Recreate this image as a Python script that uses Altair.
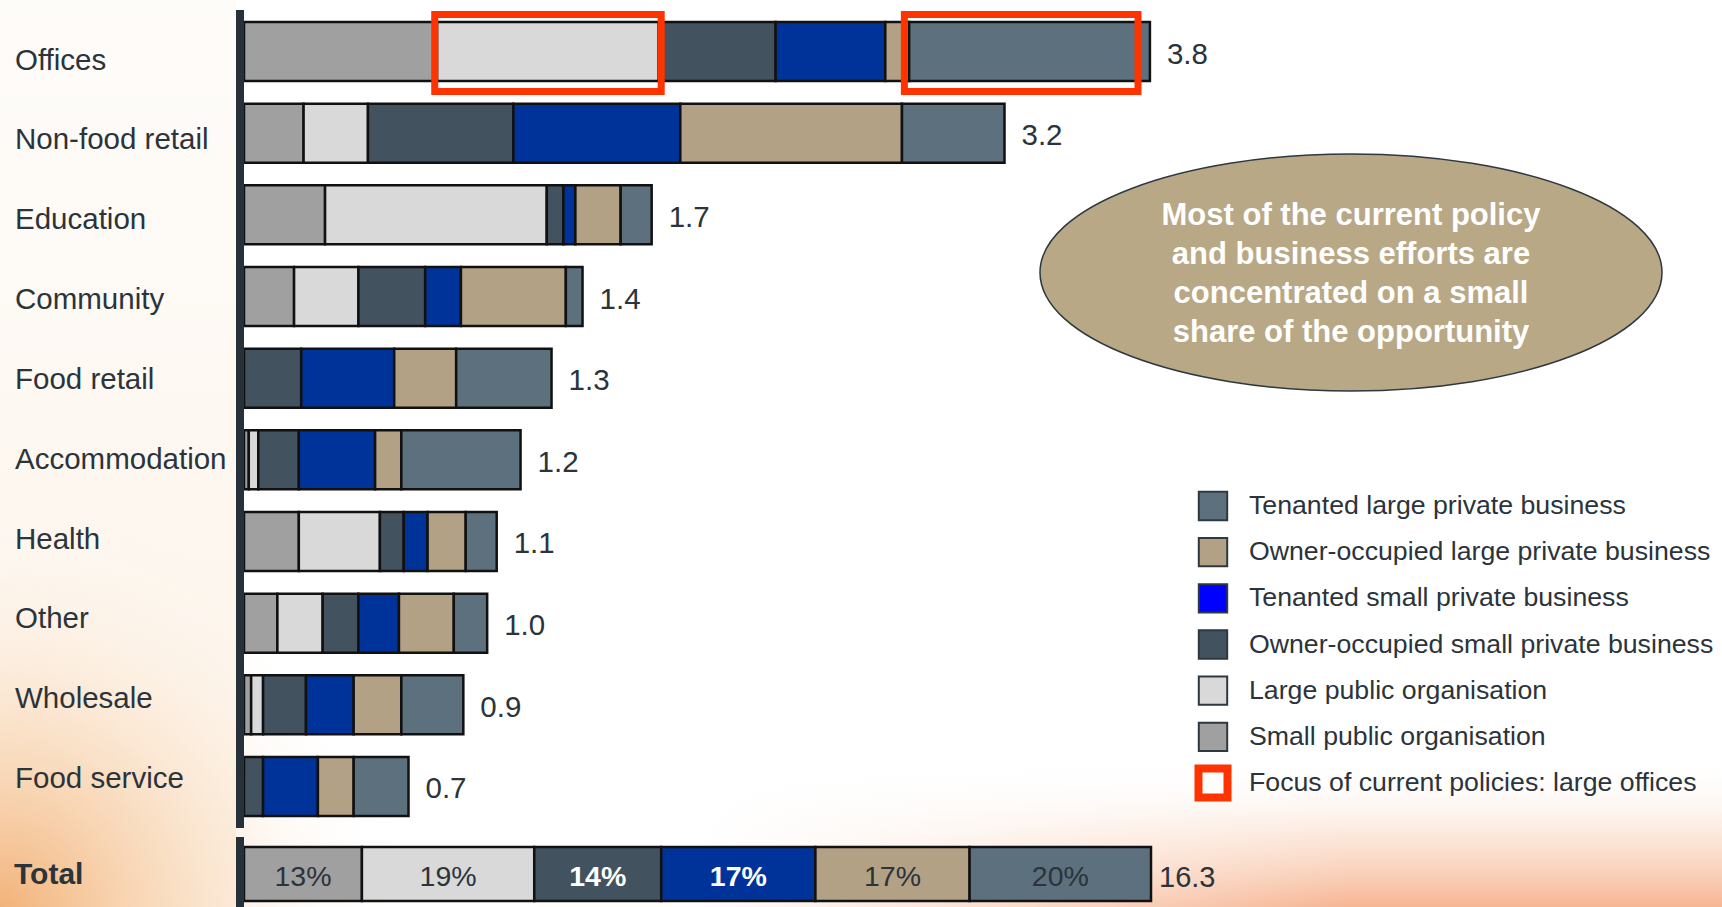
import altair as alt
import pandas as pd

# ---------------- data ----------------
categories = ["Offices", "Non-food retail", "Education", "Community", "Food retail",
              "Accommodation", "Health", "Other", "Wholesale", "Food service"]

segments = ["Small public organisation", "Large public organisation",
            "Owner-occupied small private business", "Tenanted small private business",
            "Owner-occupied large private business", "Tenanted large private business"]

small_public = [0.81, 0.25, 0.34, 0.21, 0.00, 0.02, 0.23, 0.14, 0.03, 0.00]
large_public = [0.93, 0.27, 0.93, 0.27, 0.00, 0.04, 0.34, 0.19, 0.05, 0.00]
oo_small     = [0.49, 0.61, 0.07, 0.28, 0.24, 0.17, 0.10, 0.15, 0.18, 0.08]
ten_small    = [0.46, 0.70, 0.05, 0.15, 0.39, 0.32, 0.10, 0.17, 0.20, 0.23]
oo_large     = [0.10, 0.93, 0.19, 0.44, 0.26, 0.11, 0.16, 0.23, 0.20, 0.15]
ten_large    = [1.01, 0.43, 0.13, 0.07, 0.40, 0.50, 0.13, 0.14, 0.26, 0.23]
row_totals   = [3.8, 3.2, 1.7, 1.4, 1.3, 1.2, 1.1, 1.0, 0.9, 0.7]

total_label = "Total"
total_pct = [13, 19, 14, 17, 17, 20]
total_value = 16.3

focus_category = "Offices"
focus_start = [0.80, 2.77]
focus_end = [1.75, 3.75]

legend_labels = ["Tenanted large private business", "Owner-occupied large private business",
                 "Tenanted small private business", "Owner-occupied small private business",
                 "Large public organisation", "Small public organisation"]
focus_legend_label = "Focus of current policies: large offices"

callout_lines = ["Most of the current policy", "and business efforts are",
                 "concentrated on a small", "share of the opportunity"]

# ---------------- styles ----------------
bar_colors = ["#A0A0A0", "#D9D9D9", "#42525E", "#00339A", "#B3A185", "#5C707E"]
legend_colors = ["#5C707E", "#B3A185", "#0000FF", "#42525E", "#D9D9D9", "#A0A0A0"]
white_bold_segments = ["Owner-occupied small private business", "Tenanted small private business"]
FONT = "Liberation Sans"
TEXT = "#2B333B"
RED = "#FF3300"
AXIS = "#27313A"

W, H = 1722, 907
X0 = 244.0           # pixel where bars start
PX_UNIT = 238.4      # pixels per unit of the sector bars
TOTAL_PX = 907.0     # pixel length of the 100% total bar

# ---------------- tables built from the lists ----------------
series = [small_public, large_public, oo_small, ten_small, oo_large, ten_large]
rows = []
ends = []
for i, cat in enumerate(categories):
    acc = 0.0
    for s, seg in enumerate(segments):
        v = series[s][i]
        if v > 0:
            rows.append({"category": cat, "segment": seg, "start": acc, "end": acc + v})
        acc += v
    ends.append(acc)
seg_df = pd.DataFrame(rows)
tot_df = pd.DataFrame({"category": categories, "end": ends,
                       "label": [f"{v:.1f}" for v in row_totals]})
focus_df = pd.DataFrame({"category": [focus_category] * len(focus_start),
                         "start": focus_start, "end": focus_end})

trows = []
acc = 0.0
for seg, p in zip(segments, total_pct):
    trows.append({"category": total_label, "segment": seg, "start": acc, "end": acc + p,
                  "mid": acc + p / 2, "pct": f"{p}%"})
    acc += p
total_df = pd.DataFrame(trows)
total_end_df = pd.DataFrame({"category": [total_label], "end": [acc], "label": [f"{total_value}"]})

legend_df = pd.DataFrame({"label": legend_labels + [focus_legend_label]})
callout_df = pd.DataFrame({"line": callout_lines, "i": list(range(len(callout_lines)))})
cat_df = pd.DataFrame({"category": categories})
one = pd.DataFrame({"k": [0]})

# ---------------- scales ----------------
x_main = alt.Scale(domain=[-X0 / PX_UNIT, (W - X0) / PX_UNIT], range=[0, W], nice=False, zero=False)
y_main = alt.Scale(domain=categories, range=[10.7, 827.3], paddingInner=0.278, paddingOuter=0.139)
y_lab = alt.Scale(type="point", domain=categories, range=[60.5, 779], padding=0)
x_tot = alt.Scale(domain=[-X0 * 100 / TOTAL_PX, (W - X0) * 100 / TOTAL_PX], range=[0, W], nice=False, zero=False)
y_tot = alt.Scale(domain=[total_label], range=[847, 901], paddingInner=0, paddingOuter=0)
seg_color = alt.Scale(domain=segments, range=bar_colors)

# ---------------- background ----------------
def grad_rect(x, x2, y, y2, fill):
    return alt.Chart(one).mark_rect(fill=fill).encode(
        x=alt.value(x), x2=alt.value(x2), y=alt.value(y), y2=alt.value(y2))

def stops(*pairs):
    return [{"offset": o, "color": c} for o, c in pairs]

bg = alt.layer(
    grad_rect(0, 236, 0, 907, {"gradient": "linear", "x1": 0, "y1": 0, "x2": 0, "y2": 1,
                               "stops": stops((0, "rgba(253,249,244,0.5)"), (1, "rgba(251,234,214,0.6)"))}),
    grad_rect(0, 400, 520, 907, {"gradient": "radial", "x1": 0, "y1": 1, "r1": 0, "x2": 0, "y2": 1, "r2": 1,
                                 "stops": stops((0, "rgba(240,160,90,0.8)"), (0.45, "rgba(246,200,155,0.45)"),
                                                (1, "rgba(255,255,255,0)"))}),
    grad_rect(700, 1722, 760, 907, {"gradient": "linear", "x1": 0, "y1": 0, "x2": 0, "y2": 1,
                                    "stops": stops((0, "rgba(255,255,255,0)"), (0.5, "rgba(249,205,178,0.45)"),
                                                   (1, "rgba(245,168,128,0.85)"))}),
    grad_rect(700, 1350, 760, 907, {"gradient": "linear", "x1": 0, "y1": 0, "x2": 1, "y2": 0,
                                    "stops": stops((0, "rgba(255,255,255,1)"), (1, "rgba(255,255,255,0)"))}),
)

# ---------------- sector bars ----------------
bars = alt.Chart(seg_df).mark_bar(stroke="#111111", strokeWidth=2.5).encode(
    x=alt.X("start:Q", scale=x_main, axis=None),
    x2="end:Q",
    y=alt.Y("category:N", scale=y_main, axis=None),
    color=alt.Color("segment:N", scale=seg_color, legend=None),
)
focus_boxes = alt.Chart(focus_df).mark_bar(size=77, fillOpacity=0, stroke=RED, strokeWidth=7,
                                           yOffset=1.5).encode(
    x=alt.X("start:Q", scale=x_main, axis=None),
    x2="end:Q",
    y=alt.Y("category:N", scale=y_main, axis=None),
)
value_labels = alt.Chart(tot_df).mark_text(align="left", baseline="middle", dx=17, dy=3, fontSize=29.5,
                                           font=FONT, color=TEXT).encode(
    x=alt.X("end:Q", scale=x_main, axis=None),
    y=alt.Y("category:N", scale=y_main, axis=None),
    text="label:N",
)
axis_main = alt.Chart(one).mark_rule(strokeWidth=8, color=AXIS, xOffset=-4).encode(
    x=alt.datum(0, scale=x_main), y=alt.value(10), y2=alt.value(828))
main = alt.layer(bars, focus_boxes, value_labels, axis_main)

cat_labels = alt.Chart(cat_df).mark_text(align="left", baseline="middle", fontSize=29.5,
                                         font=FONT, color=TEXT).encode(
    x=alt.value(15),
    y=alt.Y("category:N", scale=y_lab, axis=None),
    text="category:N",
)

# ---------------- total bar ----------------
tbars = alt.Chart(total_df).mark_bar(stroke="#111111", strokeWidth=2.5).encode(
    x=alt.X("start:Q", scale=x_tot, axis=None),
    x2="end:Q",
    y=alt.Y("category:N", scale=y_tot, axis=None),
    color=alt.Color("segment:N", scale=seg_color, legend=None),
)
tpct_normal = alt.Chart(total_df).transform_filter(
    {"not": alt.FieldOneOfPredicate(field="segment", oneOf=white_bold_segments)}
).mark_text(align="center", baseline="middle", dy=3, fontSize=28.5, font=FONT, color=TEXT).encode(
    x=alt.X("mid:Q", scale=x_tot, axis=None),
    y=alt.Y("category:N", scale=y_tot, axis=None),
    text="pct:N",
)
tpct_bold = alt.Chart(total_df).transform_filter(
    alt.FieldOneOfPredicate(field="segment", oneOf=white_bold_segments)
).mark_text(align="center", baseline="middle", dy=3, fontSize=28.5, font=FONT, fontWeight="bold",
            color="white").encode(
    x=alt.X("mid:Q", scale=x_tot, axis=None),
    y=alt.Y("category:N", scale=y_tot, axis=None),
    text="pct:N",
)
tlabel = alt.Chart(total_end_df).mark_text(align="left", baseline="middle", dy=1, fontSize=30, font=FONT,
                                           fontWeight="bold", color=TEXT).encode(
    x=alt.value(14),
    y=alt.Y("category:N", scale=y_tot, axis=None),
    text="category:N",
)
tvalue = alt.Chart(total_end_df).mark_text(align="left", baseline="middle", dx=8, dy=4, fontSize=29,
                                           font=FONT, color=TEXT).encode(
    x=alt.X("end:Q", scale=x_tot, axis=None),
    y=alt.Y("category:N", scale=y_tot, axis=None),
    text="label:N",
)
axis_tot = alt.Chart(one).mark_rule(strokeWidth=8, color=AXIS, xOffset=-4).encode(
    x=alt.datum(0, scale=x_tot), y=alt.value(837), y2=alt.value(907))
total = alt.layer(tbars, tpct_normal, tpct_bold, tlabel, tvalue, axis_tot)

# ---------------- legend ----------------
y_leg = alt.Scale(type="point", domain=legend_labels + [focus_legend_label], range=[506, 783], padding=0)
leg_sw = alt.Chart(legend_df).transform_filter(
    alt.FieldOneOfPredicate(field="label", oneOf=legend_labels)
).mark_point(shape="square", size=28.4 ** 2, filled=True, stroke="#2E3840", strokeWidth=2,
             opacity=1).encode(
    x=alt.value(1213),
    y=alt.Y("label:N", scale=y_leg, axis=None),
    fill=alt.Fill("label:N", scale=alt.Scale(domain=legend_labels, range=legend_colors), legend=None),
)
leg_focus = alt.Chart(legend_df).transform_filter(
    alt.FieldEqualPredicate(field="label", equal=focus_legend_label)
).mark_point(shape="square", size=29 ** 2, filled=True, fill="white", stroke=RED, strokeWidth=8,
             opacity=1).encode(
    x=alt.value(1213),
    y=alt.Y("label:N", scale=y_leg, axis=None),
)
leg_text = alt.Chart(legend_df).mark_text(align="left", baseline="middle", fontSize=26.7, font=FONT,
                                          color=TEXT).encode(
    x=alt.value(1249),
    y=alt.Y("label:N", scale=y_leg, axis=None),
    text="label:N",
)
legend = alt.layer(leg_sw, leg_focus, leg_text)

# ---------------- callout ----------------
RY = 237 / 622
ellipse_path = f"M-1,0A1,{RY:.4f},0,1,1,1,0A1,{RY:.4f},0,1,1,-1,0Z"
ellipse = alt.Chart(one).mark_point(shape=ellipse_path, size=622 ** 2, filled=True, fill="#B9A886",
                                    fillOpacity=1, stroke="#2E3840", strokeWidth=1.5,
                                    strokeOpacity=1, opacity=1).encode(
    x=alt.value(1351), y=alt.value(272.5))
callout_text = alt.Chart(callout_df).mark_text(align="center", baseline="middle", fontSize=31,
                                               font=FONT, fontWeight="bold", color="white").encode(
    x=alt.value(1351),
    y=alt.Y("i:O", scale=alt.Scale(type="point", range=[216, 333], padding=0), axis=None),
    text="line:N",
)
callout = alt.layer(ellipse, callout_text)

chart = alt.layer(bg, main, cat_labels, total, legend, callout).resolve_scale(
    x="independent", y="independent", color="independent", fill="independent"
).properties(
    width=W, height=H, autosize=alt.AutoSizeParams(type="none"), padding=0, background="white"
).configure_view(stroke=None)

chart.save("out.html", embed_options={"renderer": "svg", "actions": False})
